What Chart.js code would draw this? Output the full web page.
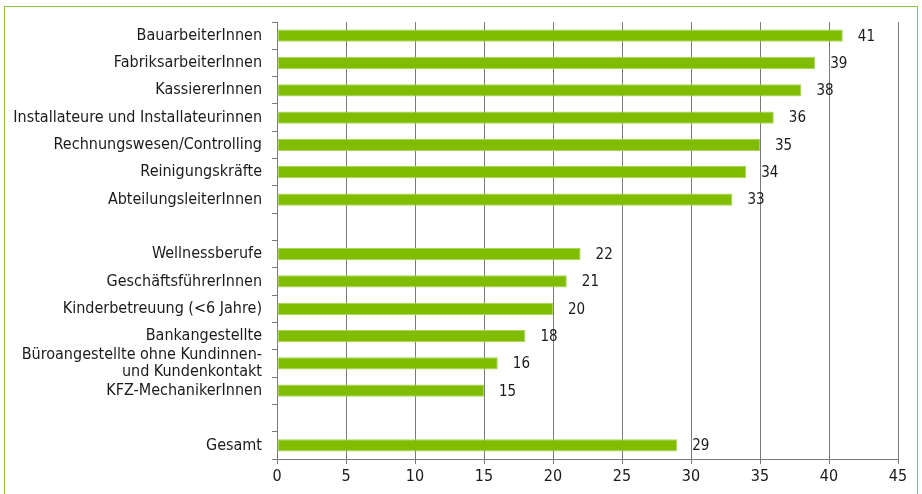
<!DOCTYPE html>
<html>
<head>
<meta charset="utf-8">
<script src="https://cdn.jsdelivr.net/npm/chart.js@4"></script>
<style>
  html, body { margin: 0; padding: 0; background: #fff; }
  #wrap { position: relative; width: 922px; height: 494px; }
  #rahmen { position: absolute; left: 4px; top: 6px; width: 914px; height: 492px;
            border: 1.5px solid #8cc63f; box-sizing: border-box; pointer-events: none; }
</style>
</head>
<body>
<div id="wrap">
  <canvas id="grafico" width="922" height="494"></canvas>
  <div id="rahmen"></div>
</div>
<script>
const berufe = [
  'BauarbeiterInnen',
  'FabriksarbeiterInnen',
  'KassiererInnen',
  'Installateure und Installateurinnen',
  'Rechnungswesen/Controlling',
  'Reinigungskräfte',
  'AbteilungsleiterInnen',
  '',
  'Wellnessberufe',
  'GeschäftsführerInnen',
  'Kinderbetreuung (<6 Jahre)',
  'Bankangestellte',
  ['Büroangestellte ohne Kundinnen-', 'und Kundenkontakt'],
  'KFZ-MechanikerInnen',
  '',
  'Gesamt'
];
const werte = [41, 39, 38, 36, 35, 34, 33, null, 22, 21, 20, 18, 16, 15, null, 29];
const xTicks = [0, 5, 10, 15, 20, 25, 30, 35, 40, 45];

const schrift = '"Liberation Sans Narrow", "DejaVu Sans Condensed", sans-serif';

// Zahlen rechts neben die Balken schreiben
const wertLabels = {
  id: 'wertLabels',
  afterDatasetsDraw(chart) {
    const ctx = chart.ctx;
    const meta = chart.getDatasetMeta(0);
    ctx.save();
    ctx.font = '15px ' + schrift;
    ctx.fillStyle = '#1a1a1a';
    ctx.textBaseline = 'middle';
    ctx.textAlign = 'left';
    meta.data.forEach((bar, i) => {
      if (werte[i] == null) return;
      ctx.fillText(String(werte[i]), bar.x + 15, bar.y + 1);
    });
    ctx.restore();
  }
};

const ctx = document.getElementById('grafico').getContext('2d');

new Chart(ctx, {
  type: 'bar',
  data: {
    labels: berufe,
    datasets: [{
      data: werte,
      backgroundColor: '#80bc00',
      borderColor: '#a6d65a',
      borderWidth: 1,
      borderSkipped: false,
      barPercentage: 0.9,
      categoryPercentage: 0.5
    }]
  },
  options: {
    indexAxis: 'y',
    responsive: false,
    animation: false,
    layout: { padding: { top: 22, right: 24, left: 0, bottom: 0 } },
    plugins: {
      legend: { display: false },
      tooltip: { enabled: false }
    },
    scales: {
      x: {
        min: 0,
        max: 45,
        afterBuildTicks: (axis) => { axis.ticks = xTicks.map(v => ({ value: v })); },
        afterFit: (axis) => { axis.height = 35; },
        grid: { color: '#7a7a7a', lineWidth: 1, tickLength: 5, drawOnChartArea: true },
        border: { color: '#7a7a7a', width: 1 },
        ticks: { color: '#1a1a1a', font: { family: schrift, size: 16 }, padding: 3, maxRotation: 0 }
      },
      y: {
        afterFit: (axis) => { axis.width = 277; },
        grid: { offset: true, drawOnChartArea: false, color: '#7a7a7a', tickLength: 5 },
        border: { color: '#7a7a7a', width: 1 },
        ticks: { color: '#1a1a1a', font: { family: schrift, size: 16, lineHeight: 1.05 }, padding: 10, autoSkip: false }
      }
    }
  },
  plugins: [wertLabels]
});
</script>
</body>
</html>
